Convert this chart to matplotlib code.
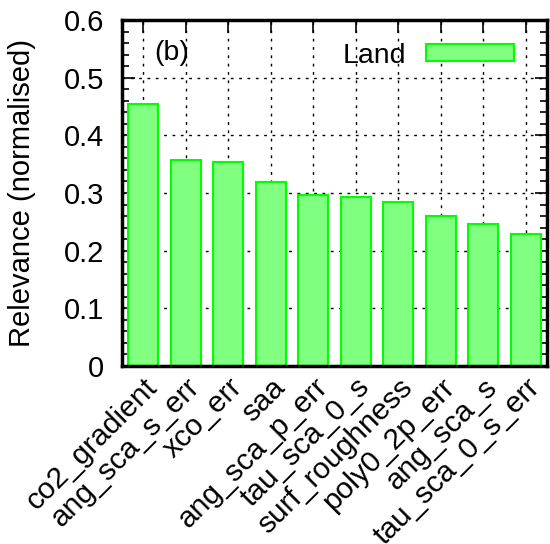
import numpy as np
import matplotlib
matplotlib.use("Agg")
import matplotlib.pyplot as plt
from matplotlib.ticker import MultipleLocator

plt.rcParams['font.family'] = ['Liberation Sans', 'DejaVu Sans']

# relevance values
names = ['co2_gradient', 'ang_sca_s_err', 'xco_err', 'saa', 'ang_sca_p_err',
         'tau_sca_0_s', 'surf_roughness', 'poly0_2p_err', 'ang_sca_s', 'tau_sca_0_s_err']
relevance = [0.454, 0.357, 0.354, 0.319, 0.296, 0.293, 0.284, 0.260, 0.246, 0.229]

fs_y = 21
fs_x = 21.5
fs_t = 20.5
fig = plt.figure(figsize=(5.5, 5.44), dpi=100)
ax = fig.add_axes([0.222, 0.3272, 0.7725, 0.636])

x = np.arange(len(names))
ax.bar(x, relevance, width=0.7, color='#80ff80', edgecolor='#00ff00',
       linewidth=1.5, label='Land', zorder=3)

ax.set_xlim(-0.5, len(names) - 0.5)
ax.set_ylim(0, 0.6)
ax.yaxis.set_minor_locator(MultipleLocator(0.02))
ax.set_yticks([0, 0.1, 0.2, 0.3, 0.4, 0.5, 0.6])
ax.set_yticklabels(['0', '0.1', '0.2', '0.3', '0.4', '0.5', '0.6'], fontsize=fs_y)
ax.set_xticks(x)
ax.set_xticklabels(names, rotation=45, ha='right', rotation_mode='anchor', fontsize=fs_x)

ax.tick_params(axis='both', which='major', direction='in', length=9, width=1.2,
               top=True, right=True)
ax.tick_params(axis='y', which='major', pad=13)
ax.tick_params(axis='y', which='minor', direction='in', length=5, width=1.2,
               left=True, right=True)
ax.tick_params(axis='x', which='major', pad=5)

ax.grid(True, which='major', color='black', linestyle=(0, (2, 4)), linewidth=1, zorder=0)
ax.set_axisbelow(True)
for s in ax.spines.values():
    s.set_linewidth(2.5)
    s.set_zorder(5)

ax.set_ylabel('Relevance (normalised)', fontsize=fs_y, labelpad=20)
ax.text(0.075, 0.905, '(b)', transform=ax.transAxes, fontsize=fs_t, va='center', ha='left')

leg = ax.legend(loc='upper right', frameon=False, markerfirst=False, fontsize=fs_t,
                handlelength=3.1, handleheight=0.53, borderaxespad=0, borderpad=0,
                bbox_to_anchor=(0.922, 0.935), handletextpad=0.67)

fig.savefig('out.png', dpi=100)
